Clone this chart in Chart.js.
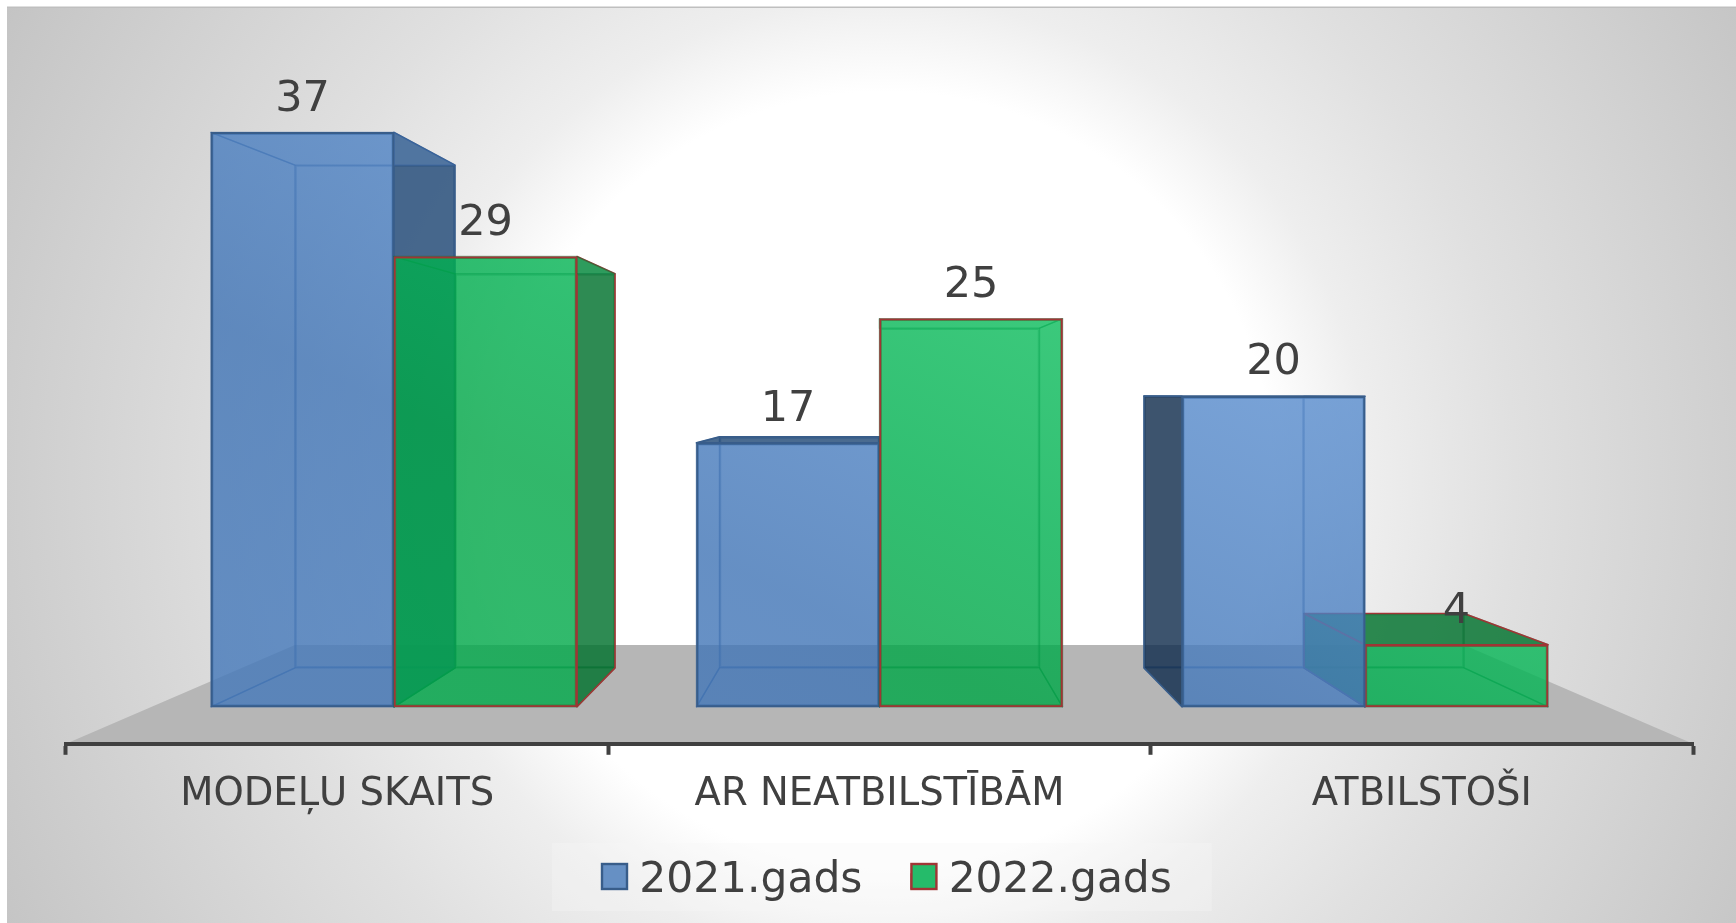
<!DOCTYPE html>
<html>
<head>
<meta charset="utf-8">
<script src="https://cdn.jsdelivr.net/npm/chart.js@4"></script>
<style>
html,body{margin:0;padding:0;background:#fff;overflow:hidden}
canvas{display:block}
</style>
</head>
<body>
<canvas id="c" width="1736" height="923"></canvas>
<script>
const categories = ['MODEĻU SKAITS', 'AR NEATBILSTĪBĀM', 'ATBILSTOŠI'];
const seriesNames = ['2021.gads', '2022.gads'];
const values2021 = [37, 17, 20];
const values2022 = [29, 25, 4];

const FONT = '"DejaVu Sans", sans-serif';
const TEXT = '#404040';
const canvas = document.getElementById('c');
function lightFill(stops){
  const g = canvas.getContext('2d').createLinearGradient(794,869,1146,131);
  stops.forEach(s=>g.addColorStop(s[0],s[1]));
  return g;
}
const BLUE = {front:lightFill([[0,'rgba(68,120,185,0.70)'],[0.3,'rgba(63,115,180,0.70)'],[0.5,'rgba(74,126,191,0.70)'],[1,'rgba(102,154,219,0.70)']]),
  back:'rgba(74,126,191,0.35)', dark:'rgba(28,66,110,0.72)', darkL:'rgba(10,34,63,0.72)',
  border:'#385d8a', inner:'rgba(56,100,160,0.55)', solid:'#6690c4'};
const GREEN = {front:lightFill([[0,'rgba(0,170,74,0.70)'],[0.3,'rgba(0,165,69,0.70)'],[0.5,'rgba(0,176,80,0.70)'],[1,'rgba(28,204,108,0.70)']]),
  back:'rgba(0,176,80,0.35)', dark:'rgba(0,105,40,0.72)', darkL:'rgba(0,105,40,0.72)',
  border:'#a03535', inner:'rgba(0,120,60,0.45)', solid:'#25bb6a'};

const FRAME = {left:66, right:43, top:20, axis:744};
const PLANE = {
  front:{unit:15.53, base:707, step:485.5, c0:394},
  back: {unit:13.59, base:668, step:424.5, c0:455}
};
const HALF_BAR = 0.1885; // half a bar, in group-spacing units
function yRange(p){return {min:-(FRAME.axis-p.base)/p.unit, max:(p.base-FRAME.top)/p.unit};}
function xRange(p){const r=1736-FRAME.right;return {min:(FRAME.left-p.c0)/p.step, max:(r-p.c0)/p.step};}
function hiddenX(p){return Object.assign({type:'linear',display:false,offset:false,grid:{display:false,offset:false},
  ticks:{stepSize:1,includeBounds:false}},xRange(p));}
function hiddenY(p){return Object.assign({type:'linear',display:false,grid:{display:false}},yRange(p));}
const pts = (vals,side) => vals.map((v,i)=>({x:i+side*HALF_BAR,y:v}));
const barCommon = {grouped:false, barPercentage:1, categoryPercentage:1, borderSkipped:false};

const boxes = {
  id:'boxes',
  afterLayout(chart){
    const lg = chart.legend; if(!lg) return;
    lg.adjustHitBoxes();
    const dx = 602 - lg.legendHitBoxes[0].left, newTop = 860 - chart.options.plugins.legend.labels.padding;
    const dy = newTop - lg.top;
    lg.left += dx; lg.right += dx; lg.top += dy; lg.height = 130; lg.bottom = lg.top + 130;
    lg.adjustHitBoxes();
  },
  beforeDraw(chart){
    const c = chart.ctx, W = chart.width, H = chart.height;
    c.save();
    const cx = 885, cy = 480, R = 1050;
    const g = c.createRadialGradient(cx,cy,0,cx,cy,R);
    g.addColorStop(0,'#ffffff'); g.addColorStop(0.37,'#ffffff');
    g.addColorStop(0.46,'#eeeeee'); g.addColorStop(0.60,'#e0e0e0');
    g.addColorStop(0.75,'#d4d4d4'); g.addColorStop(0.85,'#cccccc'); g.addColorStop(1,'#c0c0c0');
    c.fillStyle = g; c.fillRect(7,7,W-7,H-7);
    c.fillStyle = '#bfbfbf'; c.fillRect(7,6.5,W-7,1.5);
    const a = chart.chartArea;
    const backA = chart.getDatasetMeta(2).data[0], backB = chart.getDatasetMeta(3).data[2];
    c.fillStyle = '#b6b6b6';
    c.beginPath();
    c.moveTo(a.left,a.bottom);
    c.lineTo(backA.x-backA.width/2, 645);
    c.lineTo(backB.x+backB.width/2, 645);
    c.lineTo(a.right,a.bottom);
    c.closePath(); c.fill();
    const hb = chart.legend.legendHitBoxes;
    c.fillStyle = 'rgba(247,247,247,0.35)';
    c.fillRect(hb[0].left-50, 843, hb[1].left+hb[1].width-hb[0].left+90, 68);
    c.restore();
  },
  beforeDatasetsDraw(chart){
    const c = chart.ctx;
    const order = [[0,1],[0,1],[1,0]];
    const styles = [BLUE,GREEN];
    c.save();
    c.lineJoin = 'round';
    order.forEach((seq,i)=>seq.forEach(s=>{
      const st = styles[s];
      const fe = chart.getDatasetMeta(s).data[i], be = chart.getDatasetMeta(s+2).data[i];
      const F = {l:fe.x-fe.width/2,r:fe.x+fe.width/2,t:fe.y,b:fe.base};
      const B = {l:be.x-be.width/2,r:be.x+be.width/2,t:be.y,b:be.base};
      be.draw(c);
      const quad = (p,out,fill)=>{
        c.beginPath(); p.forEach((q,k)=>k?c.lineTo(q[0],q[1]):c.moveTo(q[0],q[1])); c.closePath();
        c.fillStyle = out ? fill : st.back; c.fill();
        c.strokeStyle = out ? st.border : st.inner; c.lineWidth = out?1.6:1.4; c.stroke();
      };
      quad([[F.l,F.b],[F.r,F.b],[B.r,B.b],[B.l,B.b]],false);
      quad([[F.l,F.t],[B.l,B.t],[B.l,B.b],[F.l,F.b]],B.l<F.l,st.darkL);
      quad([[F.r,F.t],[B.r,B.t],[B.r,B.b],[F.r,F.b]],B.r>F.r,st.dark);
      quad([[F.l,F.t],[F.r,F.t],[B.r,B.t],[B.l,B.t]],B.t<F.t,st.dark);
      fe.draw(c);
    }));
    c.fillStyle = TEXT; c.font = '43px '+FONT; c.textAlign='center'; c.textBaseline='middle';
    [0,1].forEach(s=>chart.getDatasetMeta(s).data.forEach((fe,i)=>{
      const v = (s?values2022:values2021)[i];
      c.fillText(String(v), fe.x, fe.y-33);
    }));
    c.restore();
    return false;
  },
  afterDraw(chart){
    const c = chart.ctx, hb = chart.legend.legendHitBoxes;
    hb.forEach((h,i)=>{
      const st = i?GREEN:BLUE, top = 864;
      c.fillStyle = st.solid; c.fillRect(h.left,top,25,25);
      c.strokeStyle = st.border; c.lineWidth = 2.4; c.strokeRect(h.left,top,25,25);
    });
  }
};

new Chart(canvas, {
  type:'bar',
  data:{
    labels:categories,
    datasets:[
      Object.assign({label:seriesNames[0],data:pts(values2021,-1),xAxisID:'xFront',yAxisID:'yFront',backgroundColor:BLUE.front,borderColor:BLUE.border,borderWidth:2},barCommon),
      Object.assign({label:seriesNames[1],data:pts(values2022,1),xAxisID:'xFront',yAxisID:'yFront',backgroundColor:GREEN.front,borderColor:GREEN.border,borderWidth:2},barCommon),
      Object.assign({label:'back 2021',data:pts(values2021,-1),xAxisID:'xBack',yAxisID:'yBack',backgroundColor:BLUE.back,borderColor:BLUE.inner,borderWidth:1.4},barCommon),
      Object.assign({label:'back 2022',data:pts(values2022,1),xAxisID:'xBack',yAxisID:'yBack',backgroundColor:GREEN.back,borderColor:GREEN.inner,borderWidth:1.4},barCommon)
    ]
  },
  options:{
    responsive:false, animation:false, events:[],
    layout:{padding:{left:FRAME.left,right:FRAME.right,top:FRAME.top,bottom:0}},
    plugins:{
      tooltip:{enabled:false},
      title:{display:false},
      legend:{
        position:'bottom', maxHeight:88,
        labels:{
          font:{family:FONT,size:42.4}, color:TEXT, boxWidth:16, boxHeight:14, padding:49,
          generateLabels(){return seriesNames.map((n,i)=>({text:n,fillStyle:(i?GREEN:BLUE).solid,strokeStyle:(i?GREEN:BLUE).border,lineWidth:2,datasetIndex:i,fontColor:TEXT}));}
        }
      }
    },
    scales:{
      x:{type:'category',position:'bottom',offset:true,
        border:{display:true,color:'#404040',width:4},
        grid:{offset:true,drawOnChartArea:false,drawTicks:true,color:'#404040',tickColor:'#404040',tickLength:11,tickWidth:4},
        ticks:{font:{family:FONT,size:38.5},color:TEXT,padding:17,maxRotation:0,autoSkip:false}},
      xFront:hiddenX(PLANE.front), xBack:hiddenX(PLANE.back),
      yFront:hiddenY(PLANE.front), yBack:hiddenY(PLANE.back)
    }
  },
  plugins:[boxes]
});
</script>
</body>
</html>
